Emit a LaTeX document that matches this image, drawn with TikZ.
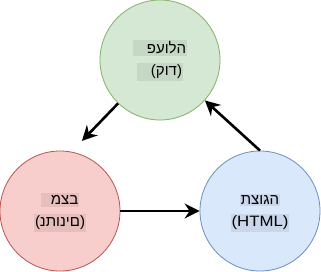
\documentclass[tikz,border=0pt]{standalone}
\usepackage{fontspec}
\setmainfont{Liberation Sans}
\newfontfamily\htmlfont[FakeStretch=1.12]{Liberation Sans}
\usetikzlibrary{arrows.meta, positioning}
\definecolor{actfill}{HTML}{D5E8D4}
\definecolor{actline}{HTML}{82B366}
\definecolor{statefill}{HTML}{F8CECC}
\definecolor{stateline}{HTML}{B85450}
\definecolor{viewfill}{HTML}{DAE8FC}
\definecolor{viewline}{HTML}{6C8EBF}
% letters set one by one, in the order they are stored
\makeatletter
\newcommand\glyphrow[1]{\@tfor\hch:=#1\do{\mbox{\hch}}}
\makeatother

\begin{document}
\begin{tikzpicture}[x=1pt, y=-1pt,
    stage/.style={circle, minimum size=120pt, inner sep=0pt, line width=0.8pt},
    lbl/.style={fill=black, fill opacity=0.07, text opacity=1, inner xsep=1pt, inner ysep=2pt, font=\fontsize{15}{17}\selectfont},
    flow/.style={line width=2.6pt, -{Stealth[length=15pt, width=15pt, inset=5pt]}}]

    \useasboundingbox (0,0) rectangle (321,271);

    % Stages of the loop
    \node[stage, fill=actfill, draw=actline] (act) at (160,60) {};
    \node[stage, fill=statefill, draw=stateline] (state) at (60,211) {};
    \node[stage, fill=viewfill, draw=viewline] (view) at (260,211) {};

    % Labels
    \node[lbl] (actA) at ([yshift=12pt]act.center) {\hspace{13pt}\glyphrow{פעולה}};
    \node[lbl] (actB) at ([yshift=-12pt]act.center) {\hspace{13pt}(\glyphrow{קוד})};
    \node[lbl] (stateA) at ([yshift=11pt]state.center) {\hspace{9pt}\glyphrow{מצב}\hspace{9pt}};
    \node[lbl] (stateB) at ([yshift=-12pt]state.center) {(\glyphrow{נתונים})};
    \node[lbl] (viewA) at ([yshift=11pt]view.center) {\glyphrow{תצוגה}};
    \node[lbl] (viewB) at ([yshift=-12pt]view.center) {\htmlfont(HTML)};

    % Flow
    \draw[flow, shorten >=15pt] (act.226) -- (state.79);
    \draw[flow] (state.east) -- (view.west);
    \draw[flow] (view.north) -- (act.-42);
\end{tikzpicture}
\end{document}
